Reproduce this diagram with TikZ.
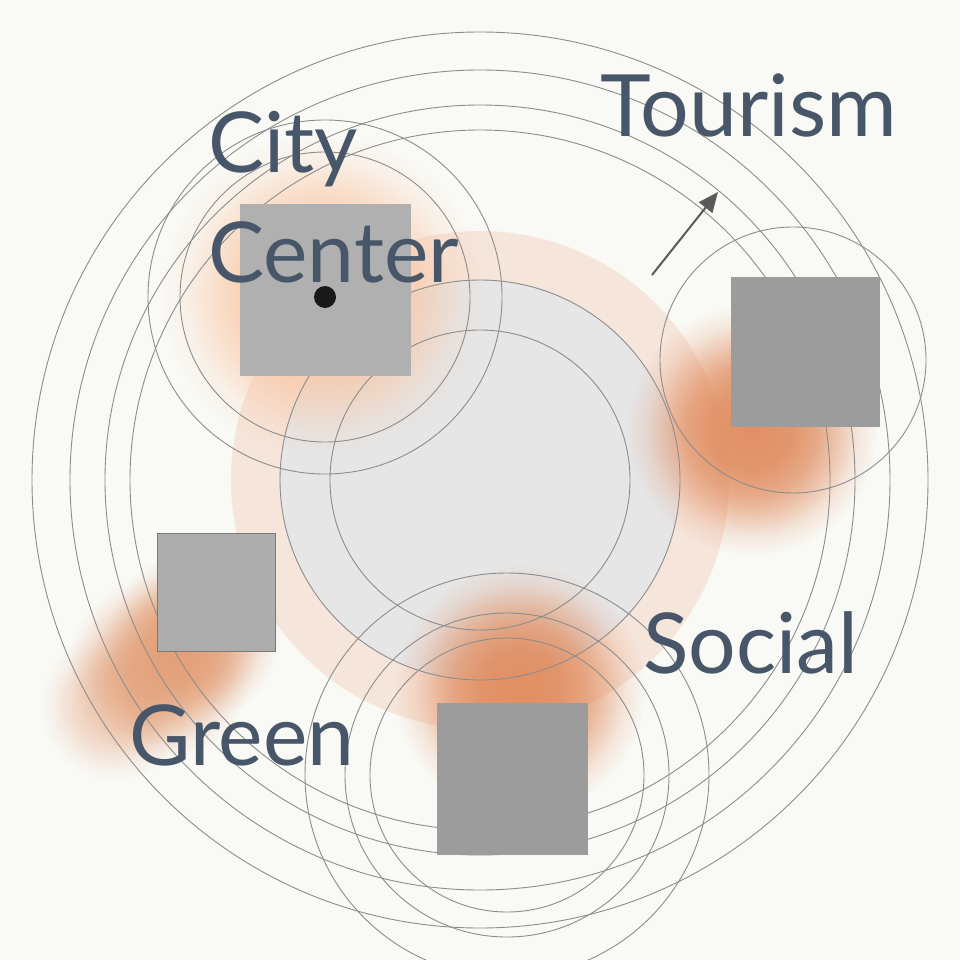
\documentclass[tikz,border=0pt]{standalone}
\usepackage{fontspec}
\setmainfont{Lato}
\usetikzlibrary{arrows.meta,fadings}
\definecolor{bgc}{HTML}{F9F9F5}
\definecolor{ringc}{HTML}{F6E5DA}
\definecolor{discc}{HTML}{E6E6E6}
\definecolor{linec}{HTML}{8C8C8C}
\definecolor{txtc}{HTML}{475669}
\definecolor{ccglowc}{HTML}{F9C29C}
\definecolor{orglowc}{HTML}{E08A5C}
\definecolor{grglowc}{HTML}{E29A70}
\definecolor{sqA}{HTML}{B0B0B0}
\definecolor{sqB}{HTML}{9C9C9C}
\definecolor{sqC}{HTML}{ADADAD}
\definecolor{sqCb}{HTML}{7A7A7A}
\definecolor{arrc}{HTML}{5A5A5A}
\pgfdeclareradialshading{glowshade}{\pgfpointorigin}{color(0bp)=(white); color(8bp)=(white!93!black); color(13bp)=(white!75!black); color(17bp)=(white!48!black); color(21bp)=(white!18!black); color(25bp)=(black); color(50bp)=(black)}
\pgfdeclarefading{glowfade}{\pgfuseshading{glowshade}}
\begin{document}
\begin{tikzpicture}[x=1pt,y=-1pt,
  thin ring/.style={draw=linec, line width=0.9pt},
  glow/.style={fill=#1, path fading=glowfade},
  block/.style={rectangle, inner sep=0pt, draw=none},
  lbl/.style={text=txtc, inner sep=0pt, anchor=base west, font=\fontsize{84}{84}\selectfont},
  arrowstyle/.style={draw=arrc, line width=2pt, -{Triangle[length=20pt,width=17pt]}}]
\useasboundingbox (0,0) rectangle (960,960);
\fill[bgc] (0,0) rectangle (960,960);
% central discs
\coordinate (ctr) at (480,480);
\fill[ringc] (ctr) circle[radius=249pt];
\fill[discc] (ctr) circle[radius=200pt];
% glows
\fill[glow=ccglowc, fill opacity=0.9] (322,295) circle[radius=160pt];
\fill[glow=orglowc, fill opacity=0.95] (752,430) circle[radius=125pt];
\fill[glow=orglowc, fill opacity=0.95] (520,690) circle[radius=125pt];
\fill[glow=grglowc, fill opacity=0.75] (195,635) circle[radius=85pt];
\fill[glow=grglowc, fill opacity=0.8] (160,668) circle[radius=92pt];
\fill[glow=grglowc, fill opacity=0.45] (115,705) circle[radius=75pt];
% concentric rings around the centre
\foreach \r in {150,200,350,375,410,448} \draw[thin ring] (ctr) circle[radius=\r pt];
% rings around city centre
\coordinate (ccc) at (325,297);
\foreach \r in {145,177} \draw[thin ring] (ccc) circle[radius=\r pt];
% ring around tourism
\coordinate (tc) at (793,360);
\draw[thin ring] (tc) circle[radius=133pt];
% rings around social
\coordinate (sc) at (507,775);
\foreach \r in {137,162,202} \draw[thin ring] (sc) circle[radius=\r pt];
% squares
\node[block, fill=sqA, minimum width=171pt, minimum height=172pt] (ccsq) at (325.5,290) {};
\node[block, fill=sqB, minimum width=149pt, minimum height=150pt] (tsq) at (805.5,352) {};
\node[block, fill=sqC, draw=sqCb, line width=1pt, minimum width=118pt, minimum height=118pt] (gsq) at (216,592) {};
\node[block, fill=sqB, minimum width=151pt, minimum height=152pt] (ssq) at (512.5,779) {};
\fill[black!90] (ccc) circle[radius=11pt];
% labels
\node[lbl] (city) at (208,173) {City};
\node[lbl] (center) at (208,282) {Center};
\node[lbl, font=\fontsize{86}{86}\selectfont] (tourism) at (600,137) {Tourism};
\node[lbl] (green) at (129,765) {Green};
\node[lbl] (social) at (643,673) {Social};
% arrow
\coordinate (a1) at (652,275);
\coordinate (a2) at (718,192);
\draw[arrowstyle] (a1) -- (a2);
\end{tikzpicture}
\end{document}
